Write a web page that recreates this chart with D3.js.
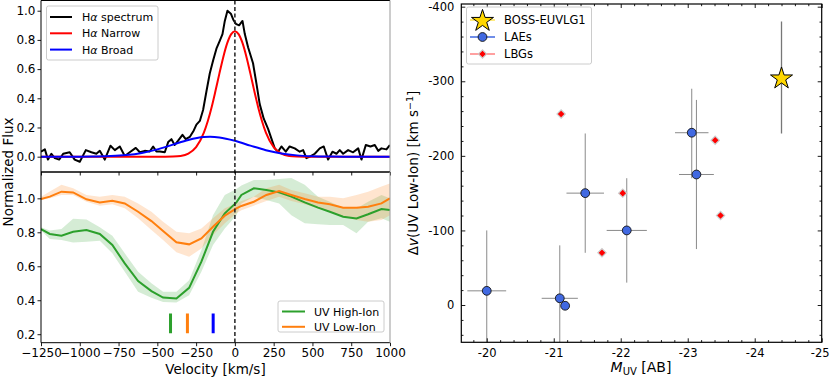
<!DOCTYPE html>
<html>
<head>
<meta charset="utf-8">
<script src="https://cdn.jsdelivr.net/npm/d3@7"></script>
<style>
  body { margin: 0; background: #fff; }
  svg { font-family: "DejaVu Sans", sans-serif; }
  .tick text { fill: #000; }
</style>
</head>
<body>
<script>
//H-alpha spectrum
var specV = [-1250, -1225, -1205, -1183, -1161, -1133, -1107, -1065, -1033, -1000, -961, -925, -893, -871, -839,
    -802, -774, -742, -710, -678, -639, -613, -581, -549, -527, -506, -484, -452, -430, -409, -388, -366, -338,
    -317, -291, -265, -248, -226, -205, -183, -162, -140, -119, -97, -80, -65, -48, -26, -11, 6, 27, 49, 64, 85,
    117, 139, 160, 186, 214, 235, 257, 278, 300, 328, 353, 386, 418, 440, 461, 483, 515, 547, 573, 601, 629, 655,
    676, 698, 730, 762, 795, 816, 844, 874, 902, 924, 945, 977, 999];
var specFlux = [0.034, 0.05, -0.02, 0.02, -0.01, -0.02, 0.02, 0.03, -0.02, -0.035, 0.045, 0.03, 0.02, 0.04, -0.02,
    0.075, 0.045, 0.07, 0.005, 0.03, 0.06, 0.03, 0.04, 0.035, 0.07, 0.035, 0.035, 0.03, 0.1, 0.12, 0.08, 0.11, 0.15,
    0.12, 0.135, 0.18, 0.22, 0.245, 0.32, 0.45, 0.57, 0.66, 0.74, 0.795, 0.84, 0.93, 1.0, 0.98, 0.94, 0.91, 0.9, 0.93,
    0.84, 0.75, 0.64, 0.5, 0.36, 0.26, 0.19, 0.125, 0.057, 0.034, 0.07, 0.034, 0.07, 0.057, 0.034, 0.045, -0.01, 0,
    0.02, 0.057, 0.07, -0.02, 0.034, 0.02, 0.045, 0.02, 0.045, 0.03, 0.057, -0.02, 0.08, 0.07, 0.08, 0.04, 0.057,
    0.05, 0.08];

//narrow and broad components
var narrowV = [-1250, -600, -450, -400, -350, -300, -250, -200, -175, -150, -125, -100, -75, -50, -25, 0, 25, 50,
    75, 100, 125, 150, 175, 200, 250, 300, 350, 400, 450, 600, 1000];
var narrowFlux = [0, 0, 0, 0.001, 0.005, 0.021, 0.065, 0.165, 0.243, 0.339, 0.451, 0.569, 0.682, 0.776, 0.838,
    0.86, 0.838, 0.776, 0.682, 0.569, 0.451, 0.339, 0.243, 0.165, 0.065, 0.021, 0.005, 0.001, 0, 0, 0];
var broadV = [-1250, -1000, -900, -800, -700, -600, -500, -400, -300, -200, -160, -100, 0, 100, 200, 300, 400, 500,
    600, 700, 800, 1000];
var broadFlux = [0, 0.0003, 0.0012, 0.0039, 0.0108, 0.0253, 0.0499, 0.0825, 0.1147, 0.1341, 0.136, 0.1318, 0.1089,
    0.0756, 0.0442, 0.0217, 0.0089, 0.0031, 0.0009, 0.0002, 0, 0];

//UV absorption profiles (bottom-left panel)
var uvV = [-1250, -1193, -1118, -1043, -957, -871, -790, -710, -624, -538, -463, -377, -295, -216, -141, -65, 10,
    42, 122, 203, 285, 364, 450, 536, 612, 698, 784, 859, 945, 999];
var highIon = [0.819, 0.79, 0.78, 0.803, 0.813, 0.79, 0.725, 0.617, 0.513, 0.454, 0.416, 0.41, 0.473, 0.627, 0.803,
    0.912, 0.976, 1.02, 1.059, 1.049, 1.035, 1.01, 0.976, 0.945, 0.921, 0.892, 0.882, 0.906, 0.937, 0.931];
var highIonUp = [0.83, 0.81, 0.82, 0.88, 0.875, 0.83, 0.78, 0.676, 0.568, 0.5, 0.45, 0.45, 0.518, 0.695, 0.9, 1.02,
    1.055, 1.075, 1.108, 1.108, 1.114, 1.12, 1.08, 1.01, 0.98, 0.945, 0.94, 0.98, 1.02, 1.0];
var highIonLo = [0.81, 0.76, 0.754, 0.74, 0.745, 0.75, 0.676, 0.568, 0.45, 0.414, 0.39, 0.387, 0.43, 0.568, 0.725,
    0.823, 0.9, 0.97, 1.01, 0.99, 0.97, 0.9, 0.853, 0.847, 0.843, 0.843, 0.794, 0.862, 0.882, 0.862];
var lowIon = [0.996, 1.01, 1.039, 1.035, 0.994, 0.976, 0.986, 0.97, 0.921, 0.866, 0.807, 0.741, 0.729, 0.764, 0.833,
    0.898, 0.941, 0.955, 0.98, 1.02, 1.043, 1.02, 0.996, 0.976, 0.965, 0.945, 0.945, 0.951, 0.97, 1.0];
var lowIonUp = [1.01, 1.04, 1.08, 1.06, 1.02, 1.01, 1.02, 1.01, 0.97, 0.921, 0.862, 0.803, 0.794, 0.823, 0.882,
    0.941, 0.97, 0.985, 1.01, 1.06, 1.08, 1.049, 1.03, 1.01, 1.01, 1.0, 1.02, 1.039, 1.07, 1.088];
var lowIonLo = [0.99, 1.0, 1.02, 1.02, 0.98, 0.957, 0.965, 0.941, 0.882, 0.813, 0.754, 0.682, 0.656, 0.705, 0.784,
    0.853, 0.912, 0.93, 0.957, 0.984, 1.01, 0.984, 0.965, 0.941, 0.921, 0.892, 0.872, 0.862, 0.872, 0.9];

//velocity markers
var markerV = [-415, -306, -140];
var markerColors = ["#2ca02c", "#ff7f0e", "blue"];

//right panel: delta v vs M_UV
var starMuv = [-24.40], starDv = [-305], starDvMin = [-380], starDvMax = [-230];
var laeMuv = [-20.0, -21.09, -21.17, -21.47, -22.09, -23.06, -23.13];
var laeDv = [-19, -9, 1, -150, -100, -231, -175];
var laeMuvErr = [0.29, 0.27, 0, 0.28, 0.3, 0.25, 0.26];
var laeDvMin = [-100, -80, 1, -230, -170, -290, -275];
var laeDvMax = [70, 70, 1, -70, -30, -170, -75];
var lbgMuv = [-21.11, -22.03, -21.72, -23.41, -23.49];
var lbgDv = [-256, -150, -70, -221, -120];

var svg = d3.select("body").append("svg")
    .attr("width", 830)
    .attr("height", 377);

var defs = svg.append("defs");

// ---------- left panels ----------
var xV = d3.scaleLinear().domain([-1250, 1000]).range([41, 390]);
var yTop = d3.scaleLinear().domain([-0.105, 1.07]).range([172, 0.5]);
var yBot = d3.scaleLinear().domain([0.15, 1.155]).range([342.7, 172]);

defs.append("clipPath").attr("id", "clipTop").append("rect")
    .attr("x", 41).attr("y", 0.5).attr("width", 349).attr("height", 171.5);
defs.append("clipPath").attr("id", "clipBot").append("rect")
    .attr("x", 41).attr("y", 172).attr("width", 349).attr("height", 170.7);

var topG = svg.append("g").attr("clip-path", "url(#clipTop)");
var botG = svg.append("g").attr("clip-path", "url(#clipBot)");

function lineFor(xs, ys, yScale, curve) {
    var l = d3.line()
        .x(function(d, i) { return xV(xs[i]); })
        .y(function(d) { return yScale(d); });
    if (curve) l.curve(curve);
    return l(ys);
}

topG.append("path").attr("d", lineFor(specV, specFlux, yTop))
    .attr("fill", "none").attr("stroke", "#000").attr("stroke-width", 2).attr("stroke-linejoin", "round");
topG.append("path").attr("d", lineFor(narrowV, narrowFlux, yTop, d3.curveMonotoneX))
    .attr("fill", "none").attr("stroke", "red").attr("stroke-width", 2);
topG.append("path").attr("d", lineFor(broadV, broadFlux, yTop, d3.curveMonotoneX))
    .attr("fill", "none").attr("stroke", "blue").attr("stroke-width", 2);

//bands
function bandFor(up, lo) {
    return d3.area()
        .x(function(d, i) { return xV(uvV[i]); })
        .y0(function(d, i) { return yBot(lo[i]); })
        .y1(function(d) { return yBot(d); })(up);
}
botG.append("path").attr("d", bandFor(highIonUp, highIonLo)).attr("fill", "#2ca02c").attr("fill-opacity", 0.2);
botG.append("path").attr("d", bandFor(lowIonUp, lowIonLo)).attr("fill", "#ff7f0e").attr("fill-opacity", 0.2);
botG.append("path").attr("d", lineFor(uvV, highIon, yBot))
    .attr("fill", "none").attr("stroke", "#2ca02c").attr("stroke-width", 2);
botG.append("path").attr("d", lineFor(uvV, lowIon, yBot))
    .attr("fill", "none").attr("stroke", "#ff7f0e").attr("stroke-width", 2);

botG.selectAll(".vmark").data(markerV).enter().append("line")
    .attr("x1", function(d) { return xV(d); }).attr("x2", function(d) { return xV(d); })
    .attr("y1", yBot(0.322)).attr("y2", yBot(0.205))
    .attr("stroke", function(d, i) { return markerColors[i]; })
    .attr("stroke-width", 3);

//dashed zero line
svg.append("line")
    .attr("x1", xV(0)).attr("x2", xV(0)).attr("y1", 0.5).attr("y2", 342.7)
    .attr("stroke", "#222").attr("stroke-width", 1.5).attr("stroke-dasharray", "4,2.5");

//axes
var xTicks = [-1250, -1000, -750, -500, -250, 0, 250, 500, 750, 1000];
function styleAxis(g, size) {
    g.select(".domain").remove();
    g.selectAll(".tick line").attr("stroke", "#000").attr("stroke-width", 0.9);
    g.selectAll(".tick text").attr("font-size", size).attr("font-family", "DejaVu Sans");
}
svg.append("g").attr("transform", "translate(0,342.7)")
    .call(d3.axisBottom(xV).tickValues(xTicks).tickSize(3.5).tickPadding(2).tickFormat(d3.format("d")))
    .call(styleAxis, "12px");
svg.append("g").attr("transform", "translate(0,172)")
    .call(d3.axisBottom(xV).tickValues(xTicks).tickSize(3.5).tickFormat(""))
    .call(styleAxis, "12px");
svg.append("g").attr("transform", "translate(41,0)")
    .call(d3.axisLeft(yTop).tickValues([0, 0.2, 0.4, 0.6, 0.8, 1.0]).tickSize(3.5).tickPadding(2).tickFormat(d3.format(".1f")))
    .call(styleAxis, "12px");
svg.append("g").attr("transform", "translate(41,0)")
    .call(d3.axisLeft(yBot).tickValues([0.2, 0.4, 0.6, 0.8, 1.0]).tickSize(3.5).tickPadding(2).tickFormat(d3.format(".1f")))
    .call(styleAxis, "12px");

//frames
[[0.5, 172], [172, 342.7]].forEach(function(p) {
    svg.append("line").attr("x1", 41).attr("x2", 390).attr("y1", p[0]).attr("y2", p[0]).attr("stroke", "#000").attr("stroke-width", 1);
    svg.append("line").attr("x1", 41).attr("x2", 390).attr("y1", p[1]).attr("y2", p[1]).attr("stroke", "#000").attr("stroke-width", 1);
    svg.append("line").attr("x1", 41).attr("x2", 41).attr("y1", p[0]).attr("y2", p[1]).attr("stroke", "#000").attr("stroke-width", 1);
    svg.append("line").attr("x1", 390).attr("x2", 390).attr("y1", p[0]).attr("y2", p[1]).attr("stroke", "#999").attr("stroke-width", 1);
});

svg.append("text").attr("x", xV(-125)).attr("y", 374)
    .attr("text-anchor", "middle").attr("font-size", "13.5px").text("Velocity [km/s]");
svg.append("text").attr("transform", "translate(13,172) rotate(-90)")
    .attr("text-anchor", "middle").attr("font-size", "13.5px").text("Normalized Flux");

//legends left
function legendBox(g, x, y, w, h) {
    g.append("rect").attr("x", x).attr("y", y).attr("width", w).attr("height", h)
        .attr("rx", 2).attr("fill", "#fff").attr("fill-opacity", 0.85)
        .attr("stroke", "#ccc").attr("stroke-width", 1);
}
var topLeg = svg.append("g");
legendBox(topLeg, 46.5, 6, 111.5, 54);
var topLegItems = [["black", "spectrum"], ["red", "Narrow"], ["blue", "Broad"]];
topLegItems.forEach(function(d, i) {
    var yy = 17 + i * 16.3;
    topLeg.append("line").attr("x1", 50).attr("x2", 72).attr("y1", yy).attr("y2", yy)
        .attr("stroke", d[0]).attr("stroke-width", 2);
    var t = topLeg.append("text").attr("x", 82).attr("y", yy + 4).attr("font-size", "11px");
    t.append("tspan").text("H");
    t.append("tspan").attr("font-style", "italic").text("α");
    t.append("tspan").text(" " + d[1]);
});

var botLeg = svg.append("g");
legendBox(botLeg, 278, 301, 106, 31);
var botLegItems = [["#2ca02c", "UV High-Ion"], ["#ff7f0e", "UV Low-Ion"]];
botLegItems.forEach(function(d, i) {
    var yy = 311.5 + i * 15.3;
    botLeg.append("line").attr("x1", 282).attr("x2", 305).attr("y1", yy).attr("y2", yy)
        .attr("stroke", d[0]).attr("stroke-width", 2);
    botLeg.append("text").attr("x", 314).attr("y", yy + 4).attr("font-size", "11px").text(d[1]);
});

// ---------- right panel ----------
var xM = d3.scaleLinear().domain([-19.62, -25]).range([461.3, 821.7]);
var yD = d3.scaleLinear().domain([50, -403.6]).range([342.3, 4]);

defs.append("clipPath").attr("id", "clipR").append("rect")
    .attr("x", 461.3).attr("y", 4).attr("width", 360.4).attr("height", 338.3);
var rG = svg.append("g").attr("clip-path", "url(#clipR)");

var errColor = "#8a8a8a";
//LAE error bars
laeMuv.forEach(function(m, i) {
    if (laeMuvErr[i] > 0) {
        rG.append("line").attr("x1", xM(m - laeMuvErr[i])).attr("x2", xM(m + laeMuvErr[i]))
            .attr("y1", yD(laeDv[i])).attr("y2", yD(laeDv[i]))
            .attr("stroke", errColor).attr("stroke-width", 1);
    }
    if (laeDvMin[i] !== laeDvMax[i]) {
        rG.append("line").attr("x1", xM(m)).attr("x2", xM(m))
            .attr("y1", yD(laeDvMin[i])).attr("y2", yD(laeDvMax[i]))
            .attr("stroke", errColor).attr("stroke-width", 1);
    }
});
starMuv.forEach(function(m, i) {
    rG.append("line").attr("x1", xM(m)).attr("x2", xM(m))
        .attr("y1", yD(starDvMin[i])).attr("y2", yD(starDvMax[i]))
        .attr("stroke", "#777").attr("stroke-width", 1.3);
});

//matplotlib-style "D" marker: a square turned 45 degrees
var diamond = d3.symbol().type(d3.symbolSquare).size(34);
rG.selectAll(".lbg").data(lbgMuv).enter().append("path")
    .attr("d", diamond)
    .attr("transform", function(d, i) { return "translate(" + xM(d) + "," + yD(lbgDv[i]) + ") rotate(45)"; })
    .attr("fill", "red").attr("stroke", "#ccc").attr("stroke-width", 1.2);

rG.selectAll(".lae").data(laeMuv).enter().append("circle")
    .attr("cx", function(d) { return xM(d); })
    .attr("cy", function(d, i) { return yD(laeDv[i]); })
    .attr("r", 4.4)
    .attr("fill", "#4169e1").attr("stroke", "#111").attr("stroke-width", 0.9);

var star = d3.symbol().type(d3.symbolStar).size(150);
rG.selectAll(".star").data(starMuv).enter().append("path")
    .attr("d", star)
    .attr("transform", function(d, i) { return "translate(" + xM(d) + "," + (yD(starDv[i]) + 1) + ")"; })
    .attr("fill", "#ffd700").attr("stroke", "#000").attr("stroke-width", 1);

//right axes, ticks inward on every side
var fmt = function(d) { return String(d); };
var xMaj = [-20, -21, -22, -23, -24, -25];
var xMin = d3.range(-19.8, -25.01, -0.2).filter(function(d) { return Math.abs(d - Math.round(d)) > 0.01; });
var yMaj = [0, -100, -200, -300, -400];
var yMin = d3.range(40, -401, -20).filter(function(d) { return d % 100 !== 0; });

function styleR(g) {
    g.select(".domain").remove();
    g.selectAll(".tick line").attr("stroke", "#000").attr("stroke-width", 0.9);
    g.selectAll(".tick text").attr("font-size", "11.5px").attr("font-family", "DejaVu Sans");
}
svg.append("g").attr("transform", "translate(0,342.3)")
    .call(d3.axisBottom(xM).tickValues(xMaj).tickSize(-4).tickPadding(7).tickFormat(fmt)).call(styleR)
    .selectAll(".tick text").filter(function(d) { return d === -25; }).attr("dx", -2);
svg.append("g").attr("transform", "translate(0,342.3)")
    .call(d3.axisBottom(xM).tickValues(xMin).tickSize(-2.2).tickFormat("")).call(styleR);
svg.append("g").attr("transform", "translate(0,4)")
    .call(d3.axisTop(xM).tickValues(xMaj).tickSize(-4).tickFormat("")).call(styleR);
svg.append("g").attr("transform", "translate(0,4)")
    .call(d3.axisTop(xM).tickValues(xMin).tickSize(-2.2).tickFormat("")).call(styleR);
svg.append("g").attr("transform", "translate(461.3,0)")
    .call(d3.axisLeft(yD).tickValues(yMaj).tickSize(-4).tickPadding(7).tickFormat(fmt)).call(styleR);
svg.append("g").attr("transform", "translate(461.3,0)")
    .call(d3.axisLeft(yD).tickValues(yMin).tickSize(-2.2).tickFormat("")).call(styleR);
svg.append("g").attr("transform", "translate(821.7,0)")
    .call(d3.axisRight(yD).tickValues(yMaj).tickSize(-4).tickFormat("")).call(styleR);
svg.append("g").attr("transform", "translate(821.7,0)")
    .call(d3.axisRight(yD).tickValues(yMin).tickSize(-2.2).tickFormat("")).call(styleR);

svg.append("rect").attr("x", 461.3).attr("y", 4).attr("width", 360.4).attr("height", 338.3)
    .attr("fill", "none").attr("stroke", "#000").attr("stroke-width", 1.2);

//right legend
var rLeg = svg.append("g");
legendBox(rLeg, 466.5, 7, 125, 57);
var rows = [20, 37, 54];
rLeg.append("line").attr("x1", 470).attr("x2", 495).attr("y1", rows[0]).attr("y2", rows[0])
    .attr("stroke", "#ffd700").attr("stroke-width", 1);
rLeg.append("path").attr("d", star).attr("transform", "translate(482.5," + (rows[0] + 1) + ")")
    .attr("fill", "#ffd700").attr("stroke", "#000").attr("stroke-width", 1);
rLeg.append("line").attr("x1", 470).attr("x2", 495).attr("y1", rows[1]).attr("y2", rows[1])
    .attr("stroke", "#4169e1").attr("stroke-width", 1.5);
rLeg.append("circle").attr("cx", 482.5).attr("cy", rows[1]).attr("r", 4.4)
    .attr("fill", "#4169e1").attr("stroke", "#111").attr("stroke-width", 0.9);
rLeg.append("line").attr("x1", 470).attr("x2", 495).attr("y1", rows[2]).attr("y2", rows[2])
    .attr("stroke", "#ff8080").attr("stroke-width", 1.5);
rLeg.append("path").attr("d", diamond).attr("transform", "translate(482.5," + rows[2] + ") rotate(45)")
    .attr("fill", "red").attr("stroke", "#ccc").attr("stroke-width", 1.2);
["BOSS-EUVLG1", "LAEs", "LBGs"].forEach(function(t, i) {
    rLeg.append("text").attr("x", 504).attr("y", rows[i] + 4).attr("font-size", "11.5px").text(t);
});

//right labels
var xl = svg.append("text").attr("x", 641).attr("y", 372).attr("text-anchor", "middle").attr("font-size", "14px");
xl.append("tspan").attr("font-style", "italic").text("M");
xl.append("tspan").attr("font-size", "10px").attr("dy", 3).text("UV");
xl.append("tspan").attr("dy", -3).text(" [AB]");

var yl = svg.append("text").attr("transform", "translate(418,173) rotate(-90)")
    .attr("text-anchor", "middle").attr("font-size", "13.5px");
yl.append("tspan").text("Δ");
yl.append("tspan").attr("font-style", "italic").text("v");
yl.append("tspan").text("(UV Low-Ion) [km s");
yl.append("tspan").attr("font-size", "9.5px").attr("dy", -5).text("−1");
yl.append("tspan").attr("dy", 5).text("]");
</script>
</body>
</html>
